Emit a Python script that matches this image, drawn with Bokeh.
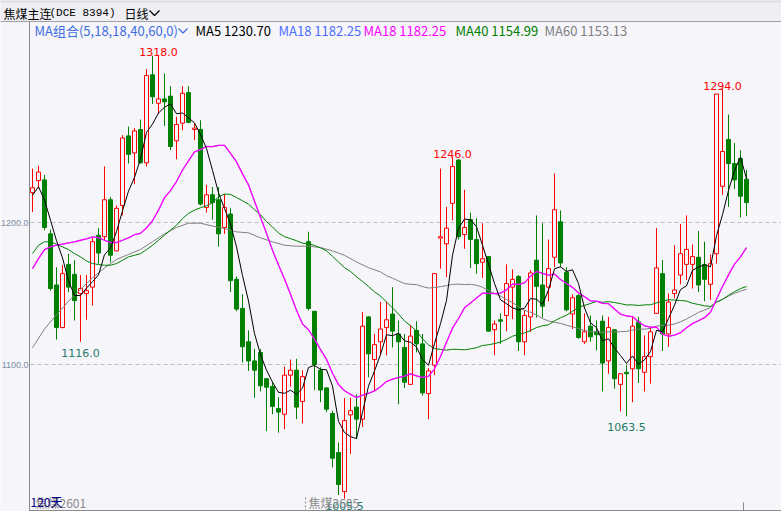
import numpy as np
from bokeh.plotting import figure
from bokeh.models import Range1d
from bokeh.core.properties import value
from bokeh.embed import file_html
from bokeh.resources import INLINE

# ---------------- data ----------------
opens = [1221.0, 1229.5, 1230.0, 1192.0, 1156.0, 1126.0, 1170.5, 1163.5, 1150.0, 1150.0,
         1154.5, 1191.0, 1190.0, 1216.0, 1180.0, 1212.0, 1261.0, 1249.0, 1265.5, 1242.0,
         1304.0, 1284.0, 1287.0, 1289.0, 1257.5, 1270.0, 1291.5, 1265.5, 1265.5, 1210.5,
         1219.5, 1216.0, 1196.5, 1206.0, 1160.0, 1139.5, 1116.0, 1102.5, 1108.5, 1090.0,
         1084.5, 1069.0, 1065.0, 1092.5, 1096.0, 1074.0, 1186.5, 1137.5, 1096.0, 1083.5,
         1065.5, 1038.0, 1010.5, 1064.5, 1070.0, 1061.5, 1133.5, 1103.5, 1116.0, 1126.0,
         1135.5, 1121.5, 1112.0, 1086.0, 1124.0, 1114.5, 1079.5, 1099.5, 1189.0, 1185.0,
         1213.5, 1244.0, 1191.5, 1202.0, 1188.0, 1172.0, 1176.0, 1124.5, 1131.5, 1134.5,
         1154.5, 1162.0, 1116.0, 1133.5, 1173.5, 1156.0, 1154.5, 1175.5, 1200.5, 1165.0,
         1135.5, 1148.5, 1116.0, 1127.0, 1123.0, 1130.5, 1102.5, 1124.5, 1086.0, 1094.5,
         1097.0, 1130.0, 1094.5, 1105.5, 1136.0, 1164.0, 1121.5, 1150.0, 1163.0, 1170.5,
         1170.5, 1175.5, 1170.5, 1156.5, 1178.0, 1225.5, 1258.5, 1241.5, 1245.0, 1230.5]
highs = [1238.0, 1240.0, 1233.5, 1195.0, 1168.5, 1170.0, 1178.0, 1173.5, 1163.0, 1163.0,
         1189.5, 1196.0, 1239.5, 1218.0, 1212.0, 1261.5, 1267.5, 1266.5, 1272.5, 1308.0,
         1317.5, 1318.0, 1305.0, 1296.0, 1274.5, 1296.0, 1296.0, 1270.0, 1272.0, 1226.5,
         1225.0, 1225.0, 1220.0, 1210.0, 1162.0, 1149.5, 1124.0, 1111.0, 1111.0, 1090.0,
         1087.5, 1077.0, 1098.5, 1103.5, 1104.0, 1096.0, 1193.5, 1137.5, 1098.0, 1084.0,
         1067.5, 1045.0, 1076.5, 1076.5, 1079.0, 1137.0, 1134.0, 1121.5, 1144.0, 1144.0,
         1154.5, 1131.0, 1121.5, 1128.0, 1130.5, 1121.5, 1097.5, 1164.0, 1238.0, 1211.0,
         1246.0, 1244.5, 1223.0, 1207.0, 1203.0, 1199.5, 1176.0, 1131.0, 1136.0, 1170.5,
         1167.0, 1163.0, 1138.0, 1166.5, 1205.0, 1199.5, 1188.0, 1234.5, 1208.5, 1168.5,
         1149.5, 1149.5, 1136.0, 1134.5, 1131.0, 1134.5, 1133.5, 1124.5, 1093.5, 1099.5,
         1134.0, 1133.5, 1120.5, 1126.5, 1196.0, 1173.5, 1150.0, 1184.0, 1199.0, 1205.0,
         1184.5, 1194.0, 1186.5, 1177.5, 1290.5, 1294.0, 1276.0, 1256.0, 1251.0, 1237.0]
lows = [1207.5, 1224.0, 1194.5, 1152.0, 1117.5, 1125.5, 1151.0, 1131.0, 1116.0, 1131.5,
        1141.5, 1171.0, 1187.0, 1172.0, 1180.0, 1205.0, 1241.5, 1227.0, 1241.5, 1239.5,
        1283.5, 1276.5, 1268.0, 1251.0, 1244.5, 1265.0, 1270.0, 1258.0, 1212.0, 1207.0,
        1202.0, 1183.0, 1192.0, 1151.0, 1137.5, 1101.5, 1095.5, 1076.5, 1081.0, 1053.0,
        1065.0, 1052.0, 1054.5, 1084.5, 1061.5, 1058.5, 1138.0, 1082.0, 1073.5, 1066.5,
        1027.5, 1008.0, 1005.5, 1037.0, 1047.5, 1056.0, 1091.0, 1081.5, 1106.5, 1106.5,
        1112.0, 1072.0, 1083.5, 1086.0, 1108.5, 1078.0, 1061.5, 1092.5, 1167.5, 1161.5,
        1201.5, 1188.0, 1181.5, 1168.0, 1164.0, 1161.0, 1123.0, 1106.5, 1114.5, 1123.5,
        1132.0, 1109.5, 1106.5, 1123.0, 1133.0, 1133.0, 1144.5, 1168.5, 1168.5, 1137.5,
        1125.0, 1118.0, 1114.5, 1116.0, 1110.0, 1081.0, 1093.5, 1083.0, 1067.0, 1063.5,
        1073.5, 1087.0, 1081.0, 1086.5, 1136.0, 1109.5, 1112.5, 1146.5, 1156.5, 1159.5,
        1153.5, 1151.0, 1144.5, 1145.5, 1171.0, 1219.5, 1211.0, 1223.5, 1203.5, 1204.5]
closes = [1224.5, 1235.5, 1196.5, 1153.5, 1126.0, 1164.0, 1154.5, 1145.0, 1153.5, 1152.0,
          1186.5, 1178.5, 1216.0, 1177.0, 1210.0, 1259.5, 1248.0, 1264.5, 1242.0, 1303.5,
          1288.5, 1287.0, 1285.0, 1253.5, 1269.0, 1291.0, 1270.5, 1266.5, 1213.0, 1219.5,
          1214.0, 1192.0, 1210.5, 1159.0, 1139.0, 1112.5, 1102.5, 1096.0, 1085.0, 1084.0,
          1070.5, 1066.5, 1092.5, 1096.0, 1070.0, 1091.5, 1139.5, 1100.0, 1082.0, 1068.5,
          1034.0, 1015.5, 1060.5, 1067.5, 1061.5, 1127.0, 1107.5, 1114.0, 1125.0, 1131.5,
          1123.5, 1116.0, 1087.5, 1120.0, 1114.5, 1080.0, 1095.5, 1164.0, 1190.0, 1196.0,
          1239.5, 1190.0, 1196.5, 1188.0, 1171.0, 1174.5, 1123.5, 1128.5, 1130.5, 1157.0,
          1160.0, 1116.0, 1134.5, 1164.5, 1155.0, 1141.0, 1167.5, 1209.0, 1171.5, 1138.5,
          1147.0, 1119.0, 1123.0, 1119.5, 1121.0, 1101.0, 1126.0, 1090.0, 1093.5, 1093.5,
          1127.0, 1097.0, 1105.5, 1123.0, 1168.0, 1121.5, 1144.0, 1152.5, 1178.0, 1181.0,
          1176.0, 1156.0, 1160.0, 1171.0, 1290.5, 1250.0, 1241.5, 1230.0, 1218.5, 1214.0]

# moving-average values before enough candles are on screen
ma5_head = [1219.3, 1225.2, 1215.8, 1201.6]
ma18_head = [1167.5, 1174.6, 1180.9, 1182.8, 1184.0, 1184.7, 1185.6, 1186.4, 1187.5,
             1188.5, 1189.9, 1189.4, 1187.5, 1185.9, 1185.9, 1187.5, 1189.2]
ma40_head = [1178.1, 1184.0, 1186.4, 1186.4, 1184.7, 1182.8, 1180.9, 1178.1, 1175.8, 1172.9,
             1171.1, 1170.4, 1169.9, 1169.9, 1171.1, 1173.4, 1175.8, 1176.9, 1178.1, 1180.9,
             1184.0, 1187.5, 1191.1, 1194.6, 1198.1, 1202.8, 1206.4, 1208.7, 1210.4, 1211.8,
             1213.9, 1218.1, 1220.0, 1219.8, 1217.6, 1215.3, 1212.9, 1209.0, 1205.5]
ma60_head_idx = list(range(0, 59, 2))
ma60_head_val = [1111.8, 1125.0, 1135.0, 1144.5, 1153.0, 1161.0, 1168.0, 1174.0, 1177.5, 1181.0,
                 1186.5, 1192.0, 1196.5, 1199.5, 1199.5, 1197.5, 1195.8, 1193.4, 1192.7, 1189.2,
                 1186.4, 1184.0, 1183.3, 1183.3, 1182.4, 1180.0, 1176.9, 1172.2, 1168.2, 1165.2]

peak_idx = [21, 70, 115]
trough_idx = [8, 52, 99]
grid_levels = [1100, 1200]
grid_labels = ["1100.0", "1200.0"]

title_name = "焦煤主连"
title_code = "(DCE 8394)"
title_period = "日线"
ma_group = "MA组合(5,18,18,40,60,0)"
ma_names = ["MA5", "MA18", "MA18", "MA40", "MA60"]
ma_last = ["1230.70", "1182.25", "1182.25", "1154.99", "1153.13"]
bottom_count = "120天"
contract_a = "焦煤2601"
contract_b = "焦煤2605"

# ---------------- layout / style ----------------
W, H = 781, 511
X0, STEP = 32.0, 6.0       # canvas x of first candle (before renderer's half-pixel shift)
Y1200, PXPT = 222.0, 1.42  # canvas y of the 1200 level, pixels per price point


def xd(px):
    return (px - X0) / STEP


def yd(py):
    return 1200 - (py - Y1200) / PXPT


BG = "#f5f5fa"
HEAD_BG = "#eeeef3"
AXIS = "#8c8c8c"
GRID = "#bdbdbd"
RED = "#ff0000"
GREEN = "#008000"
LOWC = "#1f7a6a"
CJK = value("Noto Sans CJK SC")
NUMF = value("DejaVu Sans")

p = figure(width=W, height=H, title=None,
           x_range=Range1d(xd(0), xd(W)), y_range=Range1d(yd(H), yd(0)),
           x_axis_location=None, y_axis_location=None,
           toolbar_location=None, output_backend="svg", min_border=0,
           background_fill_color=BG, border_fill_color=BG, outline_line_color=None)
p.xgrid.grid_line_color = None
p.ygrid.grid_line_color = None

xl, xr_ = xd(-1), xd(W + 1)

# header band and frame lines
p.quad(left=[xl], right=[xr_], top=[yd(-1)], bottom=[yd(20.5)], fill_color=HEAD_BG, line_color=None)
p.quad(left=[xl], right=[xr_], top=[yd(-1)], bottom=[yd(2)], fill_color="#dedee4", line_color=None)
p.segment(x0=[xl], y0=[yd(21)], x1=[xr_], y1=[yd(21)], line_color="#a0a0a6", line_width=1)
p.segment(x0=[xd(29)], y0=[yd(21)], x1=[xd(29)], y1=[yd(H)], line_color=AXIS, line_width=1)
p.segment(x0=[xd(29)], y0=[yd(510)], x1=[xr_], y1=[yd(510)], line_color=AXIS, line_width=1)

# grid lines and price labels
p.segment(x0=[xd(30)] * len(grid_levels), y0=grid_levels, x1=[xr_] * len(grid_levels),
          y1=grid_levels, line_color=GRID, line_width=1, line_dash="4 3")
p.text(x=[xd(28)] * len(grid_levels), y=grid_levels, text=grid_labels,
       text_font=value("Liberation Sans"), text_font_size="9px", text_color="#7b8da3",
       text_align="right", text_baseline="middle")

# candles
o = np.array(opens); h = np.array(highs); l = np.array(lows); c = np.array(closes)
n = len(c)
idx = np.arange(n)
up = c >= o
colors = np.where(up, RED, GREEN)
p.segment(x0=idx, y0=l, x1=idx, y1=h, line_color=list(colors), line_width=1)
bw = 4.0 / STEP
p.vbar(x=idx[up], width=bw, top=c[up], bottom=o[up], fill_color=BG, line_color=RED, line_width=1)
p.vbar(x=idx[~up], width=bw, top=o[~up], bottom=c[~up], fill_color=GREEN, line_color=GREEN, line_width=1)


# moving averages
def rolling(arr, w):
    out = np.full(len(arr), np.nan)
    for i in range(w - 1, len(arr)):
        out[i] = arr[i - w + 1:i + 1].mean()
    return out


ma5 = rolling(c, 5); ma5[:len(ma5_head)] = ma5_head
ma18 = rolling(c, 18); ma18[:len(ma18_head)] = ma18_head
ma40 = rolling(c, 40); ma40[:len(ma40_head)] = ma40_head
ma60_full = rolling(c, 60)
ma60_x = list(ma60_head_idx) + list(range(59, n))
ma60_y = list(ma60_head_val) + list(ma60_full[59:])

p.line(ma60_x, ma60_y, line_color="#808080", line_width=1)
p.line(idx, ma40, line_color=GREEN, line_width=1)
p.line(idx, ma18, line_color="#4d6fff", line_width=0.8)
p.line(idx, ma18, line_color="#ff00ff", line_width=1.3)
p.line(idx, ma5, line_color="#000000", line_width=1)

# extreme labels
p.text(x=peak_idx, y=[h[i] + 3 / PXPT for i in peak_idx], text=["%.1f" % h[i] for i in peak_idx],
       text_font=NUMF, text_font_size="11px", text_color=RED, text_align="center",
       text_baseline="alphabetic")
ty = [max(l[i] - 11 / PXPT, yd(505)) for i in trough_idx]
p.text(x=trough_idx, y=ty, text=["%.1f" % l[i] for i in trough_idx],
       text_font=NUMF, text_font_size="11px", text_color=LOWC, text_align="center",
       text_baseline="alphabetic")

# header texts
p.text(x=[xd(3)], y=[yd(12.5)], text=[title_name], text_font=CJK, text_font_size="12px",
       text_color="#000000", text_baseline="middle")
p.text(x=[xd(49)], y=[yd(12.5)], text=[title_code], text_font=value("Liberation Mono"),
       text_font_size="11px", text_color="#000000", text_baseline="middle")
p.text(x=[xd(124)], y=[yd(12.5)], text=[title_period], text_font=CJK, text_font_size="12px",
       text_color="#000000", text_baseline="middle")
p.line([xd(149), xd(154), xd(159)], [yd(10), yd(15), yd(10)], line_color="#000000", line_width=1.3)

p.text(x=[xd(34)], y=[yd(30)], text=[ma_group], text_font=CJK, text_font_size="13px",
       text_color="#3f6fe0", text_baseline="middle")
p.line([xd(178), xd(182.5), xd(187)], [yd(28), yd(32.5), yd(28)], line_color="#3f6fe0", line_width=1.3)
ma_x = [195, 278, 363, 455, 544]
ma_col = ["#000000", "#4d6fff", "#ff00ff", GREEN, "#808080"]
p.text(x=[xd(v) for v in ma_x], y=[yd(30)] * 5,
       text=[f"{a} {b}" for a, b in zip(ma_names, ma_last)],
       text_font=CJK, text_font_size="13px", text_color=ma_col, text_baseline="middle")

# bottom texts and marks
p.text(x=[xd(35)], y=[yd(502)], text=[contract_a], text_font=CJK, text_font_size="12px",
       text_color="#8a8a8a", text_baseline="middle")
p.text(x=[xd(30)], y=[yd(501)], text=[bottom_count], text_font=CJK, text_font_size="12px",
       text_color="#000080", text_baseline="middle")
p.text(x=[xd(308)], y=[yd(502)], text=[contract_b], text_font=CJK, text_font_size="12px",
       text_color="#8a8a8a", text_baseline="middle")
p.segment(x0=[xd(305)], y0=[yd(497)], x1=[xd(305)], y1=[yd(510)], line_color="#8a8a8a",
          line_width=1, line_dash="2 2")
p.segment(x0=[xd(743)], y0=[yd(502)], x1=[xd(743)], y1=[yd(510)], line_color="#8a8a8a",
          line_width=1)

open("out.html", "w").write(file_html(p, INLINE))
